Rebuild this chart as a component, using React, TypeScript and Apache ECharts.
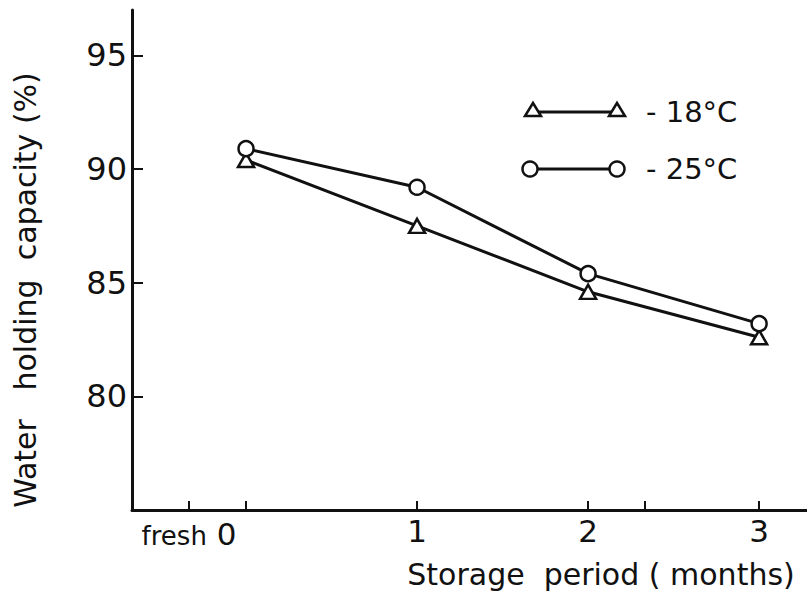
import React, { useEffect, useRef } from "react";
import * as echarts from "echarts";

const months = [0, 1, 2, 3];
const xTickLabels = ["fresh 0", "1", "2", "3"];
const xLabelPositions = [-1 / 3, 1, 2, 3];
const xTickPositions = [-1 / 3, 0, 1, 2, 7 / 3, 3];
const yTickValues = [80, 85, 90, 95];
const seriesMinus18 = [90.4, 87.5, 84.6, 82.6];
const seriesMinus25 = [90.9, 89.2, 85.4, 83.2];
const legendNames = ["- 18\u00B0C", "- 25\u00B0C"];

const FONT = "DejaVu Sans";
const INK = "#111";
const NB = "\u00A0";

export default function App() {
  const ref = useRef<HTMLDivElement>(null);
  useEffect(() => {
    if (!ref.current) return;
    const chart = echarts.init(ref.current, undefined, { renderer: "svg" });
    const tri = (cx: number, cy: number) => [
      [cx - 8, cy + 6],
      [cx + 8, cy + 6],
      [cx, cy - 7],
    ];
    chart.setOption({
      animation: false,
      backgroundColor: "#fff",
      grid: { left: 132, right: 0, top: 10, bottom: 88, containLabel: false },
      xAxis: {
        type: "value",
        min: -2 / 3,
        max: 3.28,
        splitLine: { show: false },
        axisLine: { show: true, onZero: false, lineStyle: { color: INK, width: 3 } },
        axisTick: {
          show: true,
          inside: true,
          length: 9,
          customValues: xTickPositions,
          lineStyle: { color: INK, width: 2 },
        },
        axisLabel: {
          customValues: xLabelPositions,
          formatter: (v: number) => {
            const i = xLabelPositions.findIndex((p) => Math.abs(p - v) < 1e-6);
            if (i < 0) return "";
            const t = xTickLabels[i];
            if (t.indexOf(" ") > 0) {
              const [w, n] = t.split(" ");
              return `{f|${w}}{d|${NB}${n}}`;
            }
            return t;
          },
          rich: {
            f: { fontFamily: FONT, fontSize: 26, color: INK, verticalAlign: "bottom", lineHeight: 34 },
            d: { fontFamily: FONT, fontSize: 31, color: INK, verticalAlign: "bottom", lineHeight: 34 },
          },
          color: INK,
          fontFamily: FONT,
          fontSize: 31,
          margin: 5,
        },
        name: `Storage${NB}${NB}period${NB}(${NB}months)`,
        nameLocation: "middle",
        nameGap: 49,
        nameTextStyle: {
          color: INK,
          fontFamily: FONT,
          fontSize: 30,
          padding: [0, 0, 0, 263],
        },
      },
      yAxis: {
        type: "value",
        min: 75,
        max: 97,
        splitLine: { show: false },
        axisLine: { show: true, onZero: false, lineStyle: { color: INK, width: 3 } },
        axisTick: {
          show: true,
          inside: true,
          length: 11,
          customValues: yTickValues,
          lineStyle: { color: INK, width: 2 },
        },
        axisLabel: {
          customValues: yTickValues,
          color: INK,
          fontFamily: FONT,
          fontSize: 32,
          margin: 5,
        },
        name: `Water${NB}${NB}${NB}holding${NB}${NB}capacity${NB}(%)`,
        nameLocation: "middle",
        nameGap: 92,
        nameTextStyle: { color: INK, fontFamily: FONT, fontSize: 30, padding: [0, 60, 0, 0] },
      },
      series: [
        {
          name: legendNames[0],
          type: "line",
          data: months.map((m, i) => [m, seriesMinus18[i]]),
          symbol: "triangle",
          symbolSize: [16, 14],
          showAllSymbol: true,
          lineStyle: { color: INK, width: 3 },
          itemStyle: { color: "#fff", borderColor: INK, borderWidth: 2.5 },
          z: 2,
        },
        {
          name: legendNames[1],
          type: "line",
          data: months.map((m, i) => [m, seriesMinus25[i]]),
          symbol: "circle",
          symbolSize: 15,
          showAllSymbol: true,
          lineStyle: { color: INK, width: 3 },
          itemStyle: { color: "#fff", borderColor: INK, borderWidth: 2.5 },
          z: 3,
        },
      ],
      graphic: [
        { type: "line", shape: { x1: 533, y1: 112, x2: 617, y2: 112 }, style: { stroke: INK, lineWidth: 3 } },
        { type: "polygon", shape: { points: tri(533, 110) }, style: { fill: "#fff", stroke: INK, lineWidth: 2.5 } },
        { type: "polygon", shape: { points: tri(617, 110) }, style: { fill: "#fff", stroke: INK, lineWidth: 2.5 } },
        {
          type: "text",
          x: 646,
          y: 112,
          style: { text: legendNames[0], fill: INK, font: `29px "${FONT}"`, verticalAlign: "middle", align: "left" },
        },
        { type: "line", shape: { x1: 530, y1: 169, x2: 617, y2: 169 }, style: { stroke: INK, lineWidth: 3 } },
        { type: "circle", shape: { cx: 530, cy: 169, r: 7.5 }, style: { fill: "#fff", stroke: INK, lineWidth: 2.5 } },
        { type: "circle", shape: { cx: 617, cy: 169, r: 7.5 }, style: { fill: "#fff", stroke: INK, lineWidth: 2.5 } },
        {
          type: "text",
          x: 646,
          y: 169,
          style: { text: legendNames[1], fill: INK, font: `29px "${FONT}"`, verticalAlign: "middle", align: "left" },
        },
      ],
    });
    return () => chart.dispose();
  }, []);
  return (
    <div
      ref={ref}
      style={{ position: "fixed", left: 0, top: 0, width: 807, height: 598, background: "#fff" }}
    />
  );
}
